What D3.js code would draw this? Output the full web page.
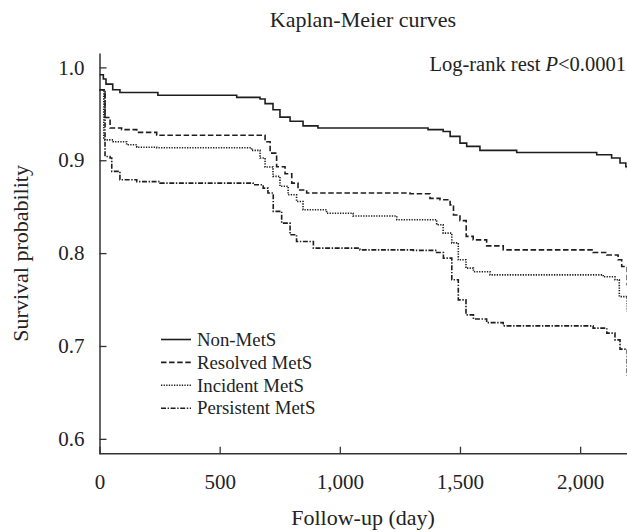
<!DOCTYPE html>
<html>
<head>
<meta charset="utf-8">
<script src="https://cdn.jsdelivr.net/npm/d3@7"></script>
<style>
  body { margin: 0; background: #fff; }
  svg text { font-family: "Liberation Serif", "Times New Roman", serif; fill: #222; }
</style>
</head>
<body>
<div id="chart"></div>
<script>
window.addEventListener('DOMContentLoaded', ()=>{

    // [day, survival probability]
    const nonMetS = [[0,0.992],[16,0.9875],[27,0.982],[55,0.976],[85,0.973],[243,0.9700],[571,0.9677],
        [668,0.966],[689,0.961],[722,0.9544],[751,0.9465],[793,0.942],[847,0.937],[909,0.9347],
        [1367,0.933],[1430,0.931],[1459,0.9257],[1500,0.9185],[1528,0.915],[1583,0.9106],[1736,0.9084],
        [2069,0.906],[2131,0.9024],[2166,0.897],[2190,0.893],[2198,0.889]];
    const resolvedMetS = [[0,0.976],[23,0.946],[44,0.9347],[92,0.933],[155,0.930],[238,0.927],
        [689,0.920],[710,0.9077],[737,0.893],[772,0.8855],[800,0.8754],[826,0.868],[862,0.8647],
        [1292,0.864],[1375,0.859],[1417,0.8575],[1459,0.852],[1473,0.841],[1500,0.835],[1526,0.818],
        [1555,0.8143],[1611,0.8078],[1680,0.8035],[2054,0.8007],[2111,0.798],[2158,0.7928],[2173,0.7856],
        [2196,0.765]];
    const incidentMetS = [[0,0.976],[18,0.922],[57,0.920],[113,0.9167],[155,0.914],[238,0.9135],
        [633,0.9106],[668,0.9024],[689,0.8927],[722,0.8826],[751,0.872],[785,0.8628],[820,0.8556],
        [847,0.8467],[945,0.843],[1055,0.840],[1237,0.836],[1403,0.8305],[1430,0.8215],[1466,0.811],
        [1493,0.7928],[1525,0.7838],[1556,0.780],[1625,0.7766],[2096,0.7745],[2145,0.7713],[2163,0.7532],
        [2196,0.737]];
    const persistentMetS = [[0,0.976],[23,0.904],[44,0.9024],[51,0.888],[85,0.879],[155,0.877],
        [252,0.8754],[639,0.8736],[681,0.870],[701,0.8647],[723,0.845],[758,0.8323],[793,0.8197],
        [820,0.8125],[890,0.8054],[1084,0.8035],[1306,0.803],[1403,0.8007],[1431,0.7946],[1466,0.7713],
        [1493,0.7497],[1525,0.7335],[1556,0.729],[1611,0.7252],[1680,0.7217],[2054,0.7192],[2111,0.7138],
        [2145,0.7066],[2166,0.6966],[2196,0.668]];

    const seriesNames = ['Non-MetS', 'Resolved MetS', 'Incident MetS', 'Persistent MetS'];
    const seriesData = [nonMetS, resolvedMetS, incidentMetS, persistentMetS];
    const dashes = [null, '5.5,2.6', '1.3,1.3', '5,1.6,1.4,1.6'];

    const xTicks = [0, 500, 1000, 1500, 2000];
    const yTicks = [0.6, 0.7, 0.8, 0.9, 1.0];

    const width = 627, height = 532;
    const margin = {top: 53, right: 0, bottom: 78, left: 99};

    const svg = d3.select('#chart')
        .append('svg')
        .attr('width', width)
        .attr('height', height);

    const x = d3.scaleLinear().domain([0, 2200]).range([margin.left + 0.5, 628.2]);
    const y = d3.scaleLinear().domain([0.584, 1.0155]).range([height - margin.bottom - 0.3, margin.top]);

    // axes, ticks point inward
    const xAxis = svg.append('g')
        .attr('transform', `translate(0,${y(0.584)})`)
        .call(d3.axisBottom(x).tickValues(xTicks).tickFormat(d3.format(','))
            .tickSizeInner(-7).tickSizeOuter(0).tickPadding(20));
    const yAxis = svg.append('g')
        .attr('transform', `translate(${x(0)},0)`)
        .call(d3.axisLeft(y).tickValues(yTicks).tickFormat(d3.format('.1f'))
            .tickSizeInner(-7).tickSizeOuter(0).tickPadding(15));

    [xAxis, yAxis].forEach(a => {
        a.attr('font-family', null);
        a.select('.domain').attr('stroke', '#333').attr('stroke-width', 1.5);
        a.selectAll('.tick line').attr('stroke', '#333').attr('stroke-width', 1.3);
        a.selectAll('.tick text').attr('font-size', 21).attr('fill', '#222');
    });
    xAxis.select('.domain').attr('d', `M${x(0)},0H${width}`);

    // survival curves
    const line = d3.line()
        .x(d => x(d[0]))
        .y(d => y(d[1]))
        .curve(d3.curveStepAfter);

    seriesData.forEach((s, i) => {
        svg.append('path')
            .datum(s)
            .attr('d', line)
            .attr('fill', 'none')
            .attr('stroke', '#1e1e1e')
            .attr('stroke-width', 1.6)
            .attr('stroke-dasharray', dashes[i]);
    });

    // legend
    const legend = svg.append('g').attr('transform', 'translate(161,339.5)');
    seriesNames.forEach((name, i) => {
        const row = legend.append('g').attr('transform', `translate(0,${i * 22.9})`);
        row.append('line')
            .attr('x1', 0).attr('x2', 30)
            .attr('stroke', '#1e1e1e')
            .attr('stroke-width', 1.6)
            .attr('stroke-dasharray', dashes[i]);
        row.append('text')
            .attr('x', 36)
            .attr('dy', '0.33em')
            .attr('font-size', 18.8)
            .text(name);
    });

    // texts
    svg.append('text')
        .attr('x', 363).attr('y', 27)
        .attr('text-anchor', 'middle')
        .attr('font-size', 22)
        .text('Kaplan-Meier curves');

    const pText = svg.append('text')
        .attr('x', 626).attr('y', 71)
        .attr('text-anchor', 'end')
        .attr('font-size', 20.5);
    pText.append('tspan').text('Log-rank rest ');
    pText.append('tspan').attr('font-style', 'italic').text('P');
    pText.append('tspan').text('<0.0001');

    svg.append('text')
        .attr('transform', `translate(28,${(y(0.584) + margin.top) / 2}) rotate(-90)`)
        .attr('text-anchor', 'middle')
        .attr('font-size', 22)
        .text('Survival probability');

    svg.append('text')
        .attr('x', 363).attr('y', 525)
        .attr('text-anchor', 'middle')
        .attr('font-size', 22)
        .text('Follow-up (day)');

});
</script>
</body>
</html>
